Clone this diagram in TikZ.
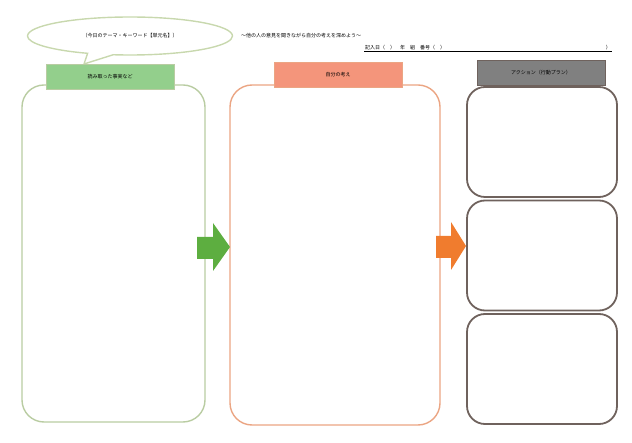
\documentclass[tikz,border=0pt]{standalone}
\usepackage{fontspec}
\setmainfont{Noto Sans CJK JP}
\usetikzlibrary{shapes.callouts,positioning}
\definecolor{leafline}{HTML}{B9CCA2}
\definecolor{leaftab}{HTML}{93CF8C}
\definecolor{leafarrow}{HTML}{5DAE40}
\definecolor{peachline}{HTML}{EBA583}
\definecolor{peachtab}{HTML}{F4957B}
\definecolor{peacharrow}{HTML}{F07C2E}
\definecolor{slateline}{HTML}{6F625D}
\definecolor{slatetab}{HTML}{808080}
\definecolor{bubbleline}{HTML}{C8D8AE}
\tikzset{
	colbox/.style={draw, rounded corners=22pt, line width=1.4pt, minimum width=#1},
	tabbox/.style={draw, line width=0.6pt, minimum width=128pt, minimum height=25pt, font=\fontsize{5}{6}\selectfont},
	smallbox/.style={draw=slateline, rounded corners=18pt, line width=1.8pt, minimum width=150pt, minimum height=110pt},
	note/.style={inner sep=1pt, font=\fontsize{5}{6}\selectfont}
}
\begin{document}
\begin{tikzpicture}[x=1pt, y=-1pt]
		\useasboundingbox (0,0) rectangle (632,443);
		\node[draw=bubbleline, line width=1.4pt, ellipse callout, minimum width=205pt, minimum height=38pt,
			callout absolute pointer={(84,64)}, font=\fontsize{5}{6}\selectfont] (theme) at (130,36) {（今日のテーマ・キーワード【単元名】）};
		\node[note, anchor=west] (goal) at (240,36) {〜他の人の意見を聞きながら自分の考えを深めよう〜};
		\node[note, anchor=west] (name) at (364,48) {記入日（　）　年　組　番号（　）};
		\node[note, anchor=east] (close) at (612,48) {）};
		\draw[line width=0.6pt] (name.south west) -- (close.south east);
		% three columns
		\node[colbox=183pt, draw=leafline, minimum height=337pt] (facts) at (113.5,253.5) {};
		\node[colbox=210pt, draw=peachline, minimum height=340pt] (ideas) at (335,255) {};
		\node[smallbox] (act1) at (542,142) {};
		\node[smallbox] (act2) at (542,255.5) {};
		\node[smallbox] (act3) at (542,369) {};
		% tabs
		\node[tabbox, draw=leafline, fill=leaftab] (factstab) at (110,77) {読み取った事実など};
		\node[tabbox, draw=peachline, fill=peachtab] (ideastab) at (338,75) {自分の考え};
		\node[tabbox, draw=slateline, fill=slatetab] (acttab) at (541,73) {アクション（行動プラン）};
		% block arrows
		\fill[leafarrow] (197,237) -- (213,237) -- (213,223) -- (230,247) -- (213,271) -- (213,259) -- (197,259) -- cycle;
		\fill[peacharrow] (436,236) -- (451,236) -- (451,222) -- (466,246) -- (451,270) -- (451,258) -- (436,258) -- cycle;
	\end{tikzpicture}
\end{document}
